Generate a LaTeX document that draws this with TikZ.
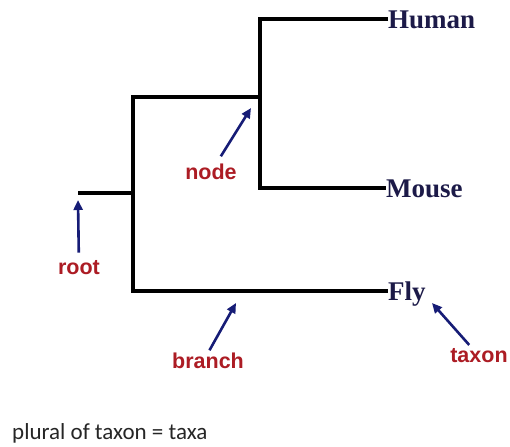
\documentclass[tikz,border=0pt]{standalone}
\usepackage{fontspec}
\setmainfont{Liberation Serif}
\newfontfamily\termfont{Liberation Sans}
\newfontfamily\notefont{Carlito}
\usepackage{xcolor}
\usetikzlibrary{positioning,calc,arrows.meta}

\definecolor{taxonnavy}{RGB}{28,26,72}
\definecolor{termred}{RGB}{172,28,36}
\definecolor{pointerblue}{RGB}{22,28,118}

\begin{document}
\begin{tikzpicture}[x=1pt, y=-1pt, >={Triangle[length=10pt, width=9pt]}, branchline/.style={line width=3.6pt, black, line join=miter}, taxon/.style={anchor=west, inner sep=0pt, text height=19pt, text depth=0pt, font=\bfseries\fontsize{27}{27}\selectfont, text=taxonnavy}, term/.style={inner sep=0pt, font=\termfont\bfseries\fontsize{21.5}{21.5}\selectfont, text=termred}, pointer/.style={->, line width=2.6pt, pointerblue}]

\useasboundingbox (0,0) rectangle (510,446);

% taxa at the tips
\node[taxon] (human) at (388,19) {Human};
\node[taxon] (mouse) at (386,188) {Mouse};
\node[taxon] (fly) at (388,291) {Fly};

% inner points of the tree
\coordinate (inner) at (260,97);
\coordinate (rootnode) at (133,193);
\coordinate (stub) at (78,193);

\draw[branchline] (human.west) -| (inner) |- (mouse.west);
\draw[branchline] (inner) -| (rootnode) |- (fly.west);
\draw[branchline] (stub) -- (rootnode);

% labels and pointers
\node[term] (rootlbl) at (79,268) {root};
\node[term] (nodelbl) at (211,172) {node};
\node[term] (branchlbl) at (208,361) {branch};
\node[term] (taxonlbl) at (479,356) {taxon};

\coordinate (roottip) at (78,200);
\coordinate (nodetip) at (251,108);
\coordinate (branchtip) at (236,303);
\coordinate (taxontip) at (432,303);

\draw[pointer, shorten <=8pt] (rootlbl) -- (roottip);
\draw[pointer, shorten <=9pt] (nodelbl) -- (nodetip);
\draw[pointer, shorten <=3pt] (branchlbl.north) -- (branchtip);
\draw[pointer, shorten <=5pt] (taxonlbl) -- (taxontip);

\node[anchor=base west, inner sep=0pt, font=\notefont\fontsize{23}{23}\selectfont, text=black!85] (note) at (12,439) {plural of taxon = taxa};
\end{tikzpicture}
\end{document}
